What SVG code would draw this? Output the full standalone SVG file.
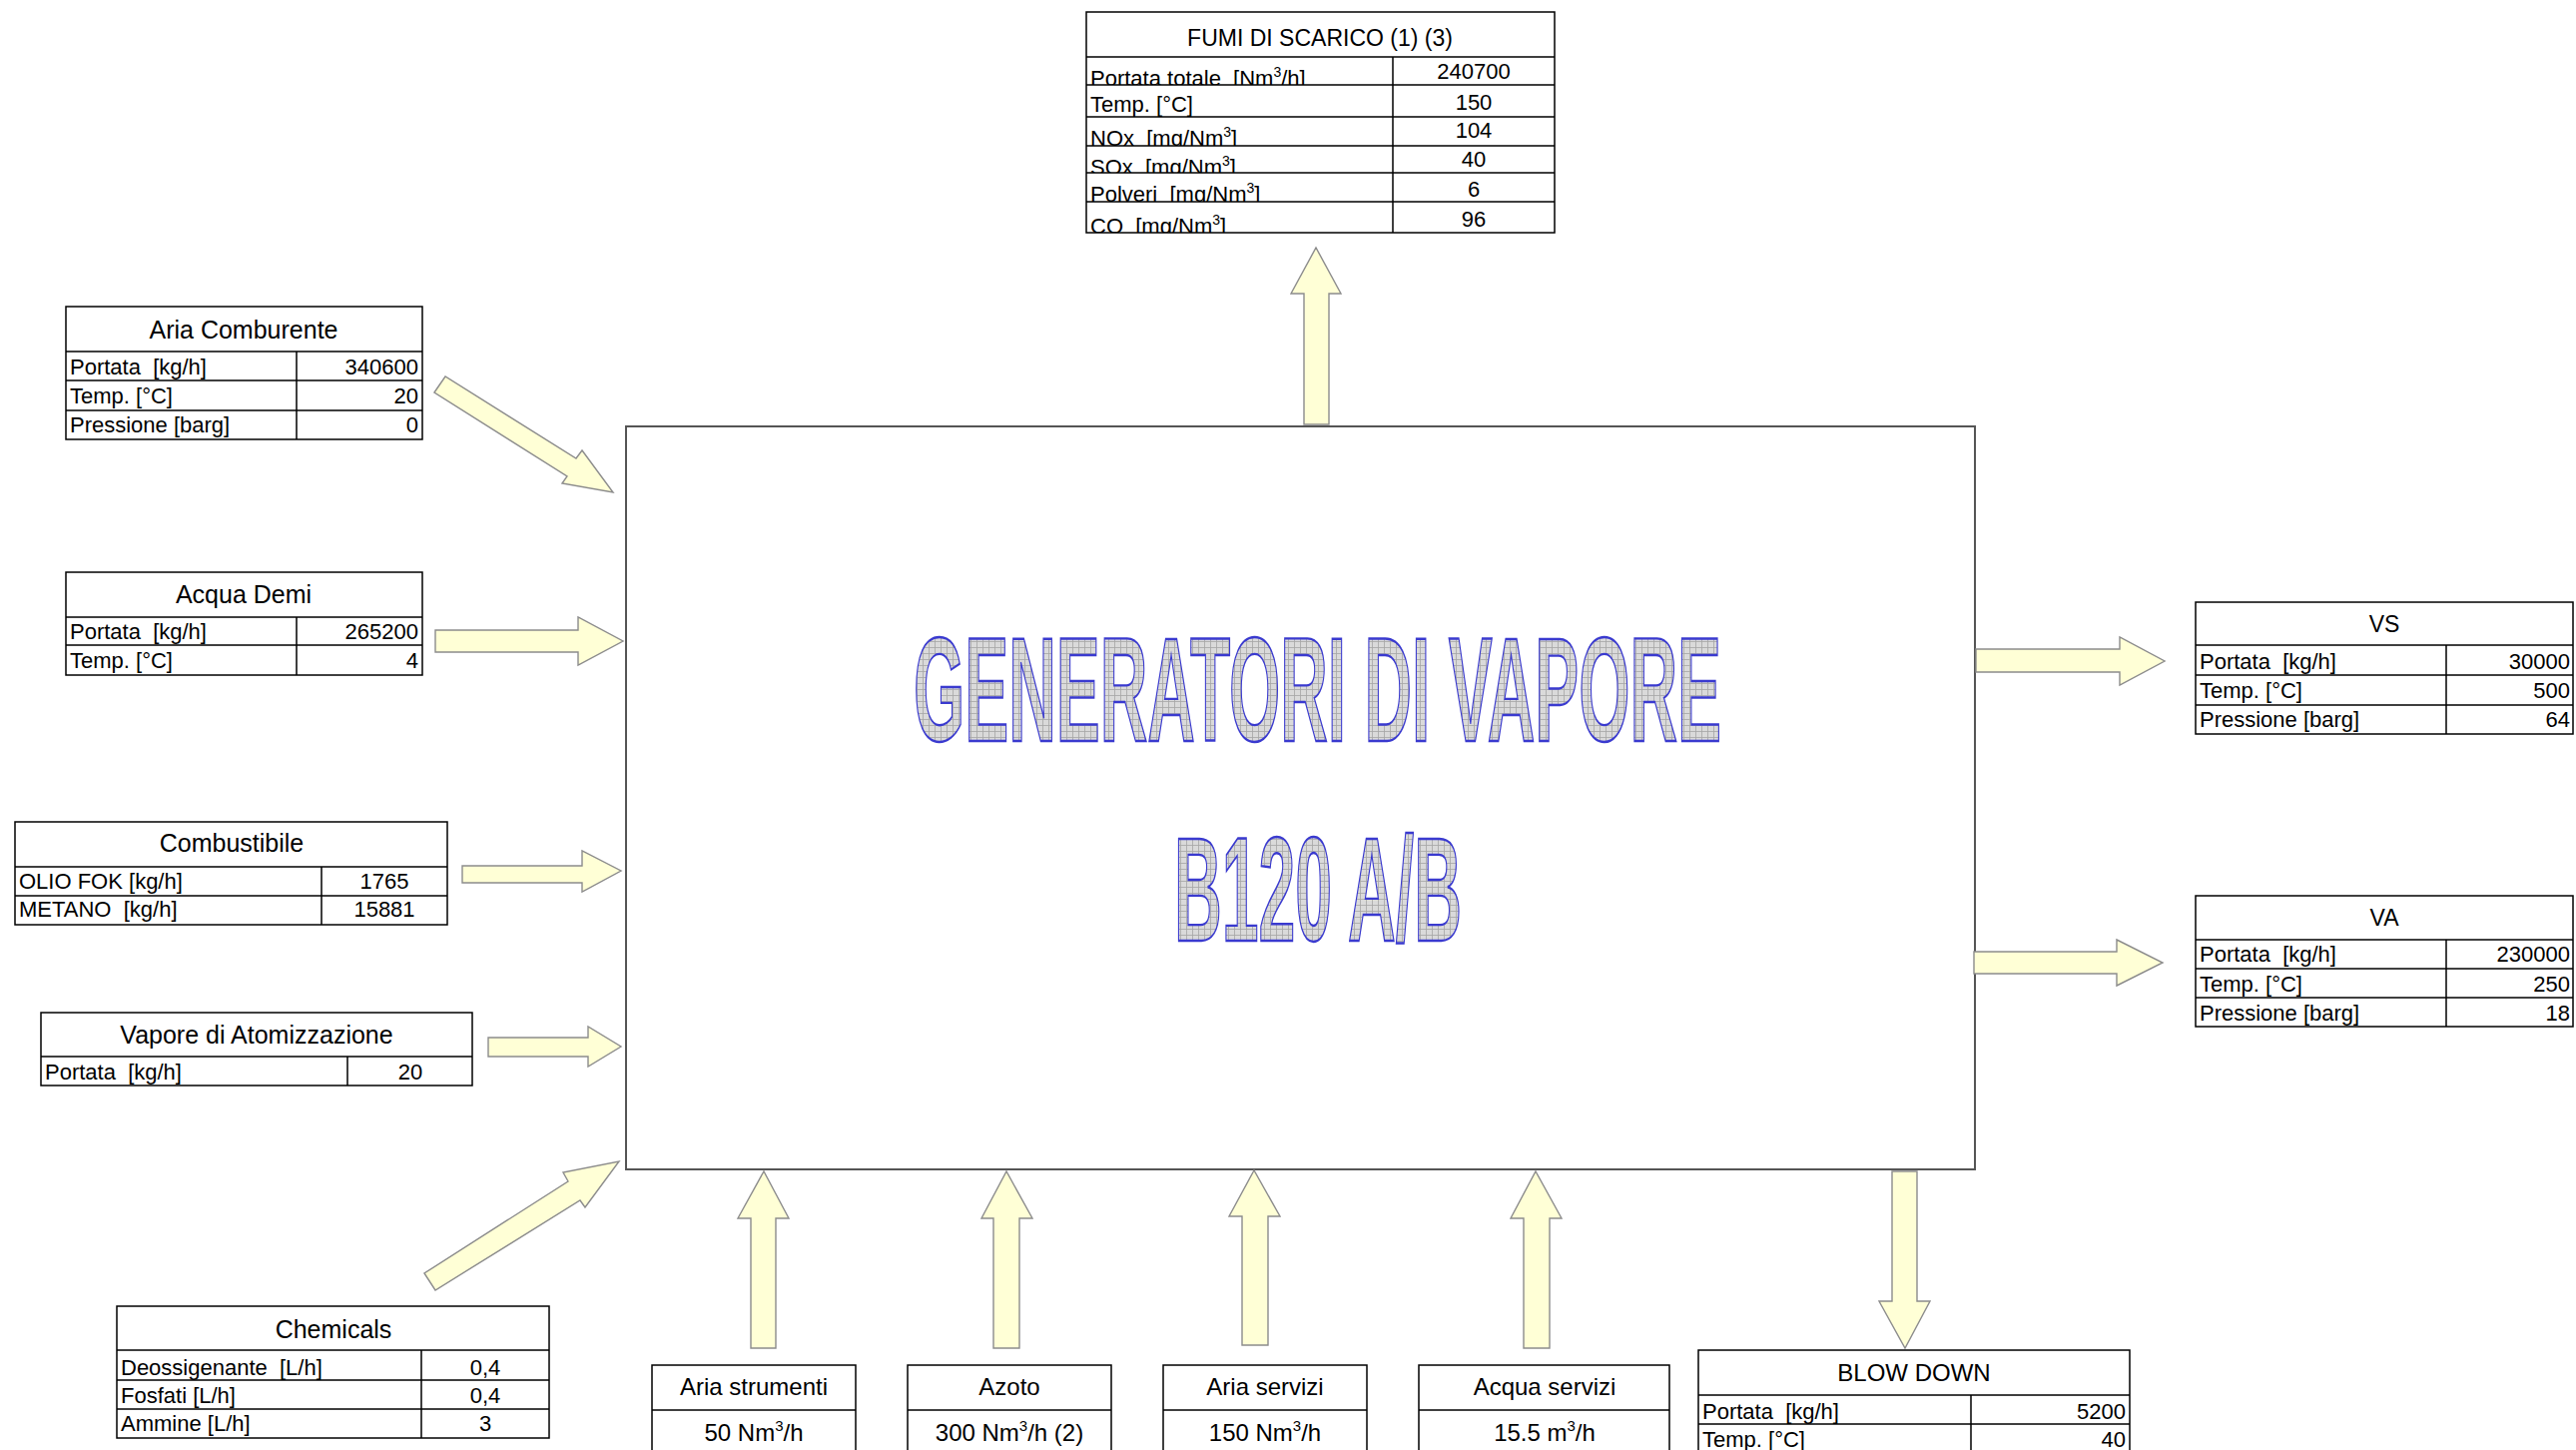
<svg xmlns="http://www.w3.org/2000/svg" width="2580" height="1452" viewBox="0 0 2580 1452">
<style>
text{font-family:"Liberation Sans",Arial,sans-serif;fill:#000;white-space:pre}
.h{font-size:23px;text-anchor:middle}
.hm{font-size:25px;text-anchor:middle}
.r{font-size:22px}
.e{text-anchor:end}
.m{text-anchor:middle}
.n{font-size:24px;text-anchor:middle}
.tb{fill:#fff;stroke:#000;stroke-width:1.5}
.ln{stroke:#000;stroke-width:1.5}
.arr{fill:#ffffd6;stroke:#8c8c8c;stroke-width:1.4;stroke-linejoin:miter}
.big{font-family:"Liberation Sans",Arial,sans-serif;font-weight:bold;font-size:148px;fill:url(#grid);stroke:#3a3acf;stroke-width:2.4}
</style>
<defs>
<pattern id="grid" width="6" height="6" patternUnits="userSpaceOnUse">
<rect width="6" height="6" fill="#dadada"/>
<path d="M0 0.5H6M0.5 0V6" stroke="#a6a6a6" stroke-width="0.8"/>
</pattern>
<clipPath id="f1"><rect x="1088" y="57" width="307" height="28"/></clipPath>
<clipPath id="f3"><rect x="1088" y="117" width="307" height="29"/></clipPath>
<clipPath id="f4"><rect x="1088" y="146" width="307" height="27"/></clipPath>
<clipPath id="f5"><rect x="1088" y="173" width="307" height="29"/></clipPath>
<clipPath id="f6"><rect x="1088" y="202" width="307" height="31"/></clipPath>
</defs>
<rect width="2580" height="1452" fill="#fff"/>

<g id="main-box">
<rect x="627" y="427" width="1351" height="744" fill="#fff" stroke="#555" stroke-width="2"/>
<text class="big" x="915" y="742" textLength="809" lengthAdjust="spacingAndGlyphs">GENERATORI DI VAPORE</text>
<text class="big" x="1176" y="942" textLength="288" lengthAdjust="spacingAndGlyphs">B120 A/B</text>
</g>

<g id="connectors">
<polygon class="arr" points="1306,425 1306,294 1293,294 1318,248 1343,294 1331,294 1331,425"/>
<polygon class="arr" points="435,393 446,377 577,459 583,451 614,493 563,484 568,477"/>
<polygon class="arr" points="436,631 579,631 579,618 624,642 579,666 579,653 436,653"/>
<polygon class="arr" points="463,867 583,867 583,852 622,872 583,893 583,884 463,884"/>
<polygon class="arr" points="489,1039 589,1039 589,1028 622,1048 589,1068 589,1058 489,1058"/>
<polygon class="arr" points="425,1275 436,1292 581,1202 586,1209 620,1163 564,1174 569,1183"/>
<polygon class="arr" points="1979,650 2123,650 2123,638 2168,662 2123,686 2123,673 1979,673"/>
<polygon class="arr" points="1977,953 2120,953 2120,941 2166,964 2120,987 2120,975 1977,975"/>
<polygon class="arr" points="752,1350 752,1220 739,1220 765,1173 790,1220 777,1220 777,1350"/>
<polygon class="arr" points="995,1350 995,1220 983,1220 1008,1173 1034,1220 1021,1220 1021,1350"/>
<polygon class="arr" points="1244,1347 1244,1218 1231,1218 1256,1172 1282,1218 1270,1218 1270,1347"/>
<polygon class="arr" points="1526,1350 1526,1220 1513,1220 1538,1173 1564,1220 1552,1220 1552,1350"/>
<polygon class="arr" points="1895,1173 1920,1173 1920,1303 1933,1303 1908,1350 1882,1303 1895,1303"/>
</g>

<g id="fumi-di-scarico">
<rect class="tb" x="1088" y="12" width="469" height="221"/>
<path class="ln" d="M1088 57H1557M1088 85H1557M1088 117H1557M1088 146H1557M1088 173H1557M1088 202H1557M1395 57V233"/>
<text class="h" x="1322" y="46">FUMI DI SCARICO (1) (3)</text>
<text class="r" x="1092" y="86" clip-path="url(#f1)">Portata totale  [Nm<tspan font-size="14" dy="-9">3</tspan><tspan dy="9">/h]</tspan></text>
<text class="r" x="1092" y="112">Temp. [°C]</text>
<text class="r" x="1092" y="146" clip-path="url(#f3)">NOx  [mg/Nm<tspan font-size="14" dy="-9">3</tspan><tspan dy="9">]</tspan></text>
<text class="r" x="1092" y="175" clip-path="url(#f4)">SOx  [mg/Nm<tspan font-size="14" dy="-9">3</tspan><tspan dy="9">]</tspan></text>
<text class="r" x="1092" y="202" clip-path="url(#f5)">Polveri  [mg/Nm<tspan font-size="14" dy="-9">3</tspan><tspan dy="9">]</tspan></text>
<text class="r" x="1092" y="234" clip-path="url(#f6)">CO  [mg/Nm<tspan font-size="14" dy="-9">3</tspan><tspan dy="9">]</tspan></text>
<text class="r m" x="1476" y="79">240700</text>
<text class="r m" x="1476" y="110">150</text>
<text class="r m" x="1476" y="138">104</text>
<text class="r m" x="1476" y="167">40</text>
<text class="r m" x="1476" y="197">6</text>
<text class="r m" x="1476" y="227">96</text>
</g>

<g id="aria-comburente">
<rect class="tb" x="66" y="307" width="357" height="133"/>
<path class="ln" d="M66 352H423M66 381H423M66 411H423M297 352V440"/>
<text class="hm" x="244" y="339">Aria Comburente</text>
<text class="r" x="70" y="375">Portata  [kg/h]</text>
<text class="r" x="70" y="404">Temp. [°C]</text>
<text class="r" x="70" y="433">Pressione [barg]</text>
<text class="r e" x="419" y="375">340600</text>
<text class="r e" x="419" y="404">20</text>
<text class="r e" x="419" y="433">0</text>
</g>

<g id="acqua-demi">
<rect class="tb" x="66" y="573" width="357" height="103"/>
<path class="ln" d="M66 618H423M66 646H423M297 618V676"/>
<text class="hm" x="244" y="604">Acqua Demi</text>
<text class="r" x="70" y="640">Portata  [kg/h]</text>
<text class="r" x="70" y="669">Temp. [°C]</text>
<text class="r e" x="419" y="640">265200</text>
<text class="r e" x="419" y="669">4</text>
</g>

<g id="combustibile">
<rect class="tb" x="15" y="823" width="433" height="103"/>
<path class="ln" d="M15 868H448M15 897H448M322 868V926"/>
<text class="hm" x="232" y="853">Combustibile</text>
<text class="r" x="19" y="890">OLIO FOK [kg/h]</text>
<text class="r" x="19" y="918">METANO  [kg/h]</text>
<text class="r m" x="385" y="890">1765</text>
<text class="r m" x="385" y="918">15881</text>
</g>

<g id="vapore-atomizzazione">
<rect class="tb" x="41" y="1014" width="432" height="73"/>
<path class="ln" d="M41 1058H473M348 1058V1087"/>
<text class="hm" x="257" y="1045">Vapore di Atomizzazione</text>
<text class="r" x="45" y="1081">Portata  [kg/h]</text>
<text class="r m" x="411" y="1081">20</text>
</g>

<g id="chemicals">
<rect class="tb" x="117" y="1308" width="433" height="132"/>
<path class="ln" d="M117 1352H550M117 1382H550M117 1411H550M422 1352V1440"/>
<text class="hm" x="334" y="1340">Chemicals</text>
<text class="r" x="121" y="1377">Deossigenante  [L/h]</text>
<text class="r" x="121" y="1405">Fosfati [L/h]</text>
<text class="r" x="121" y="1433">Ammine [L/h]</text>
<text class="r m" x="486" y="1377">0,4</text>
<text class="r m" x="486" y="1405">0,4</text>
<text class="r m" x="486" y="1433">3</text>
</g>

<g id="vs">
<rect class="tb" x="2199" y="603" width="378" height="132"/>
<path class="ln" d="M2199 646H2577M2199 676H2577M2199 706H2577M2450 646V735"/>
<text class="h" x="2388" y="633">VS</text>
<text class="r" x="2203" y="670">Portata  [kg/h]</text>
<text class="r" x="2203" y="699">Temp. [°C]</text>
<text class="r" x="2203" y="728">Pressione [barg]</text>
<text class="r e" x="2574" y="670">30000</text>
<text class="r e" x="2574" y="699">500</text>
<text class="r e" x="2574" y="728">64</text>
</g>

<g id="va">
<rect class="tb" x="2199" y="897" width="378" height="131"/>
<path class="ln" d="M2199 941H2577M2199 970H2577M2199 999H2577M2450 941V1028"/>
<text class="h" x="2388" y="927">VA</text>
<text class="r" x="2203" y="963">Portata  [kg/h]</text>
<text class="r" x="2203" y="993">Temp. [°C]</text>
<text class="r" x="2203" y="1022">Pressione [barg]</text>
<text class="r e" x="2574" y="963">230000</text>
<text class="r e" x="2574" y="993">250</text>
<text class="r e" x="2574" y="1022">18</text>
</g>

<g id="blow-down">
<rect class="tb" x="1701" y="1352" width="432" height="120"/>
<path class="ln" d="M1701 1397H2133M1701 1426H2133M1974 1397V1472"/>
<text class="n" x="1917" y="1383">BLOW DOWN</text>
<text class="r" x="1705" y="1421">Portata  [kg/h]</text>
<text class="r" x="1705" y="1449">Temp. [°C]</text>
<text class="r e" x="2129" y="1421">5200</text>
<text class="r e" x="2129" y="1449">40</text>
</g>

<g id="aria-strumenti">
<rect class="tb" x="653" y="1367" width="204" height="105"/>
<path class="ln" d="M653 1412H857"/>
<text class="n" x="755" y="1397">Aria strumenti</text>
<text class="n" x="755" y="1443">50 Nm<tspan font-size="15" dy="-10">3</tspan><tspan dy="10">/h</tspan></text>
</g>

<g id="azoto">
<rect class="tb" x="909" y="1367" width="204" height="105"/>
<path class="ln" d="M909 1412H1113"/>
<text class="n" x="1011" y="1397">Azoto</text>
<text class="n" x="1011" y="1443">300 Nm<tspan font-size="15" dy="-10">3</tspan><tspan dy="10">/h (2)</tspan></text>
</g>

<g id="aria-servizi">
<rect class="tb" x="1165" y="1367" width="204" height="105"/>
<path class="ln" d="M1165 1412H1369"/>
<text class="n" x="1267" y="1397">Aria servizi</text>
<text class="n" x="1267" y="1443">150 Nm<tspan font-size="15" dy="-10">3</tspan><tspan dy="10">/h</tspan></text>
</g>

<g id="acqua-servizi">
<rect class="tb" x="1421" y="1367" width="251" height="105"/>
<path class="ln" d="M1421 1412H1672"/>
<text class="n" x="1547" y="1397">Acqua servizi</text>
<text class="n" x="1547" y="1443">15.5 m<tspan font-size="15" dy="-10">3</tspan><tspan dy="10">/h</tspan></text>
</g>
</svg>
